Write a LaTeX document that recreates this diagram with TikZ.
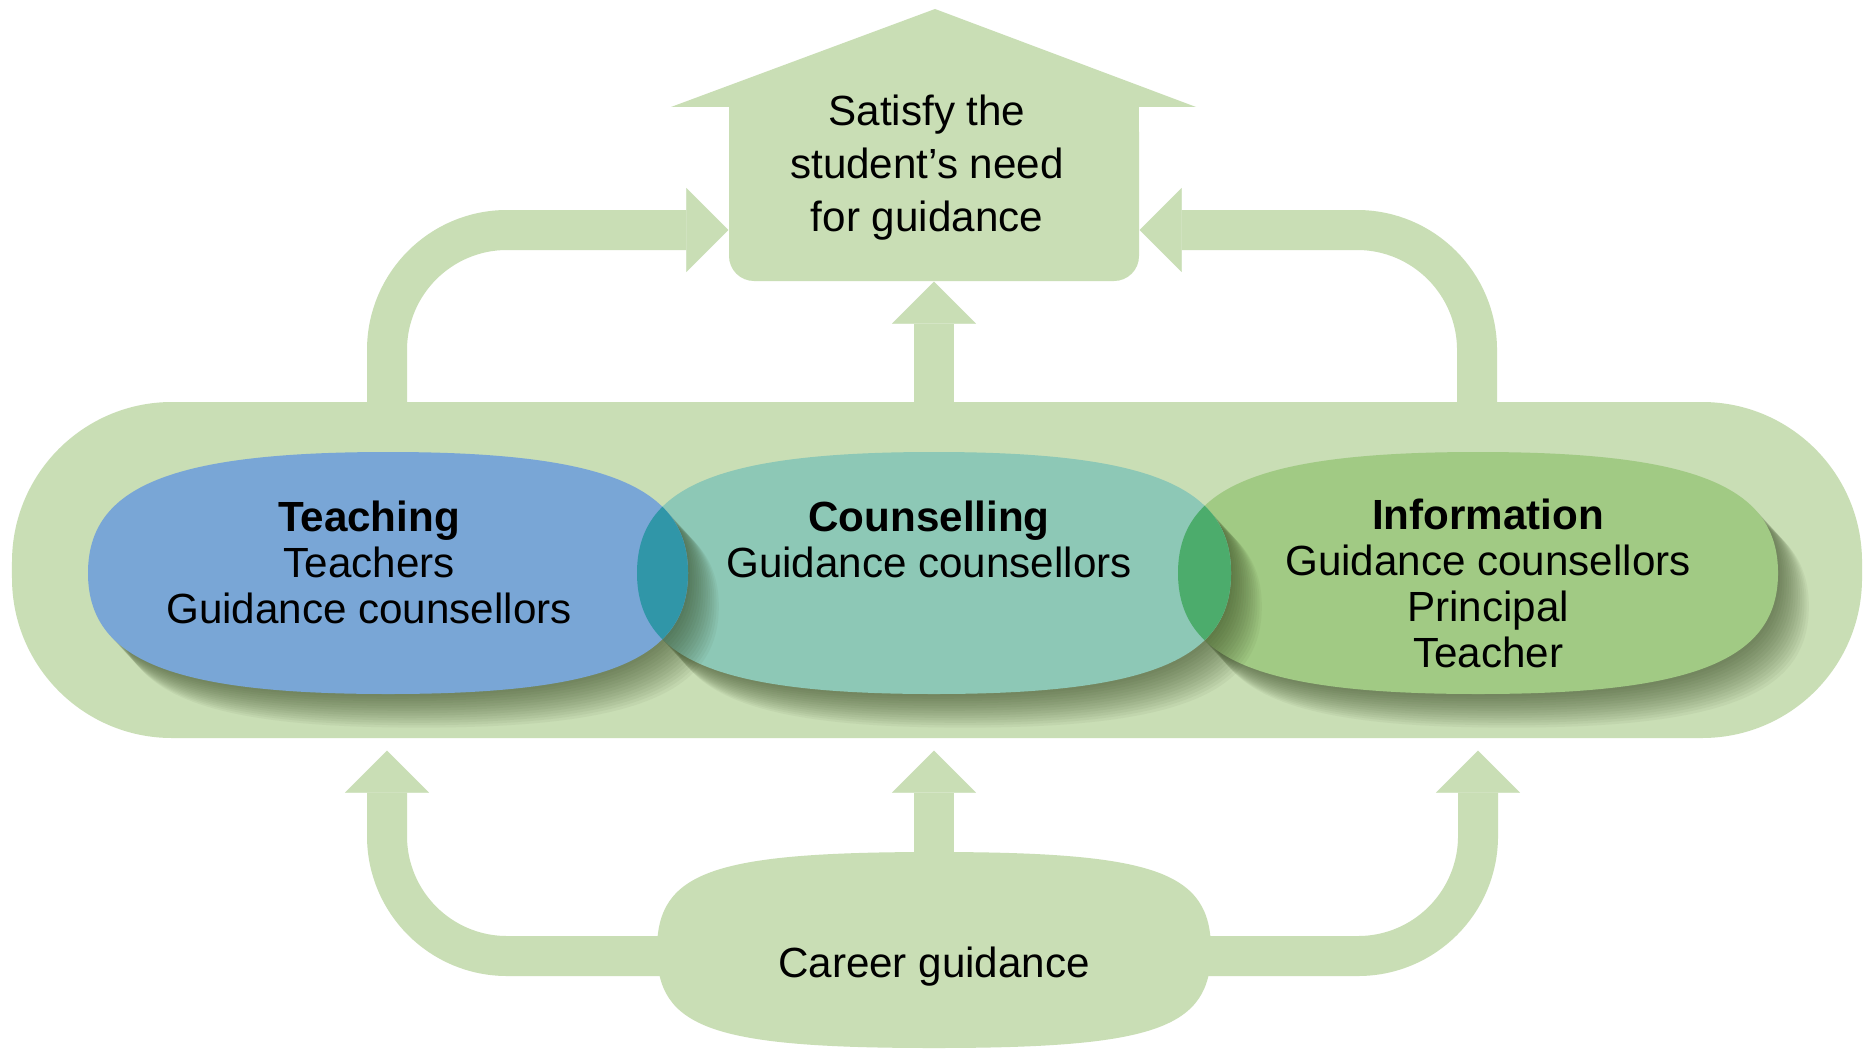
\documentclass[tikz,border=0pt]{standalone}
\usepackage{fontspec}
\setmainfont{Liberation Sans}
\usetikzlibrary{arrows.meta,calc,positioning}

\definecolor{bandgreen}{RGB}{201,222,181}
\definecolor{teachblue}{RGB}{121,166,214}
\definecolor{counsteal}{RGB}{141,200,182}
\definecolor{infogreen}{RGB}{161,202,132}
\definecolor{lensteal}{RGB}{48,150,168}
\definecolor{lensgreen}{RGB}{76,172,108}
\definecolor{shadowolive}{RGB}{45,62,25}

% rounded blob: centre, half width, half height, roundness
\newcommand{\blobpath}[4]{%
  ($(#1)+(#2,0)$) .. controls +(0,#4*#3) and +(#4*#2,0) .. ($(#1)+(0,#3)$)
  .. controls +(-#4*#2,0) and +(0,#4*#3) .. ($(#1)+(-#2,0)$)
  .. controls +(0,-#4*#3) and +(-#4*#2,0) .. ($(#1)+(0,-#3)$)
  .. controls +(#4*#2,0) and +(0,-#4*#3) .. ($(#1)+(#2,0)$) -- cycle}

% soft shadow to the lower right of a blob
\newcommand{\softshadow}[3]{%
  \foreach \s in {1,...,14}{%
    \begin{scope}[transform canvas={shift={(\s*0.22mm,-\s*0.24mm)}}]
      \fill[shadowolive, opacity=0.05] \blobpath{#1}{#2}{#3}{0.72};
    \end{scope}}}

\begin{document}
\begin{tikzpicture}[
    fatarrow/.style={draw=bandgreen, line width=4mm, -{Triangle[length=4.2mm, width=8.4mm, line width=0.1pt]}},
    roletext/.style={font=\fontsize{12}{13.1}\selectfont, align=center, inner sep=0pt, anchor=north}
]
\fill[white] (0,0) rectangle (18.66,-10.51);
\useasboundingbox (0,0) rectangle (18.66,-10.51);

% Outer band
\node[fill=bandgreen, rounded corners=16mm, minimum width=18.5cm, minimum height=3.36cm] (band) at (9.37,-5.70) {};

% House
\fill[bandgreen] (6.71,-1.07) -- (9.35,-0.09) -- (11.96,-1.07) -- cycle;
\fill[bandgreen] (7.29,-1.07) rectangle (11.39,-1.5);
\node[fill=bandgreen, rounded corners=2.5mm, minimum width=4.1cm, minimum height=1.74cm] (house) at (9.34,-1.94) {};
\node[roletext, font=\fontsize{12}{15.1}\selectfont] (need) at (9.27,-0.945) {Satisfy the\\student’s need\\for guidance};

% Three fields: information at the bottom, teaching on top
\coordinate (tc) at (3.88,-5.73);
\coordinate (cc) at (9.34,-5.73);
\coordinate (ic) at (14.78,-5.73);
\softshadow{ic}{3.0}{1.21}
\fill[infogreen] \blobpath{ic}{3.0}{1.21}{0.72};
\softshadow{cc}{2.97}{1.21}
\fill[counsteal] \blobpath{cc}{2.97}{1.21}{0.72};
\softshadow{tc}{3.0}{1.21}
\fill[teachblue] \blobpath{tc}{3.0}{1.21}{0.72};
\begin{scope}
  \clip \blobpath{tc}{3.0}{1.21}{0.72};
  \fill[lensteal] \blobpath{cc}{2.97}{1.21}{0.72};
\end{scope}
\begin{scope}
  \clip \blobpath{ic}{3.0}{1.21}{0.72};
  \fill[lensgreen] \blobpath{cc}{2.97}{1.21}{0.72};
\end{scope}

\node[roletext] (teach) at (3.69,-5.00) {\textbf{Teaching}\\Teachers\\Guidance counsellors};
\node[roletext] (couns) at (9.29,-5.00) {\textbf{Counselling}\\Guidance counsellors};
\node[roletext] (info) at (14.88,-4.98) {\textbf{Information}\\Guidance counsellors\\Principal\\Teacher};

% Career guidance
\coordinate (gc) at (9.34,-9.50);
\fill[bandgreen] \blobpath{gc}{2.77}{0.98}{0.8};
\node[font=\fontsize{12}{13.1}\selectfont, text height=0.52cm, minimum width=5.54cm, minimum height=1.96cm] (career) at (9.34,-9.56) {Career guidance};

% Arrows up to the house
\draw[fatarrow, rounded corners=12mm, shorten <=-2mm] (3.87,0 |- band.north) |- (house.west |- 0,-2.30);
\draw[fatarrow, rounded corners=12mm, shorten <=-2mm] (14.77,0 |- band.north) |- (house.east |- 0,-2.30);
\draw[fatarrow, shorten <=-2mm] (band.north -| house.south) -- (house.south);

% Arrows up from career guidance
\draw[fatarrow, rounded corners=12mm, shorten <=-3mm, shorten >=1.2mm] (career.west) -| (3.87,0 |- band.south);
\draw[fatarrow, rounded corners=12mm, shorten <=-3mm, shorten >=1.2mm] (career.east) -| (14.78,0 |- band.south);
\draw[fatarrow, shorten <=-2mm, shorten >=1.2mm] (career.north) -- (band.south -| career.north);

\end{tikzpicture}
\end{document}
